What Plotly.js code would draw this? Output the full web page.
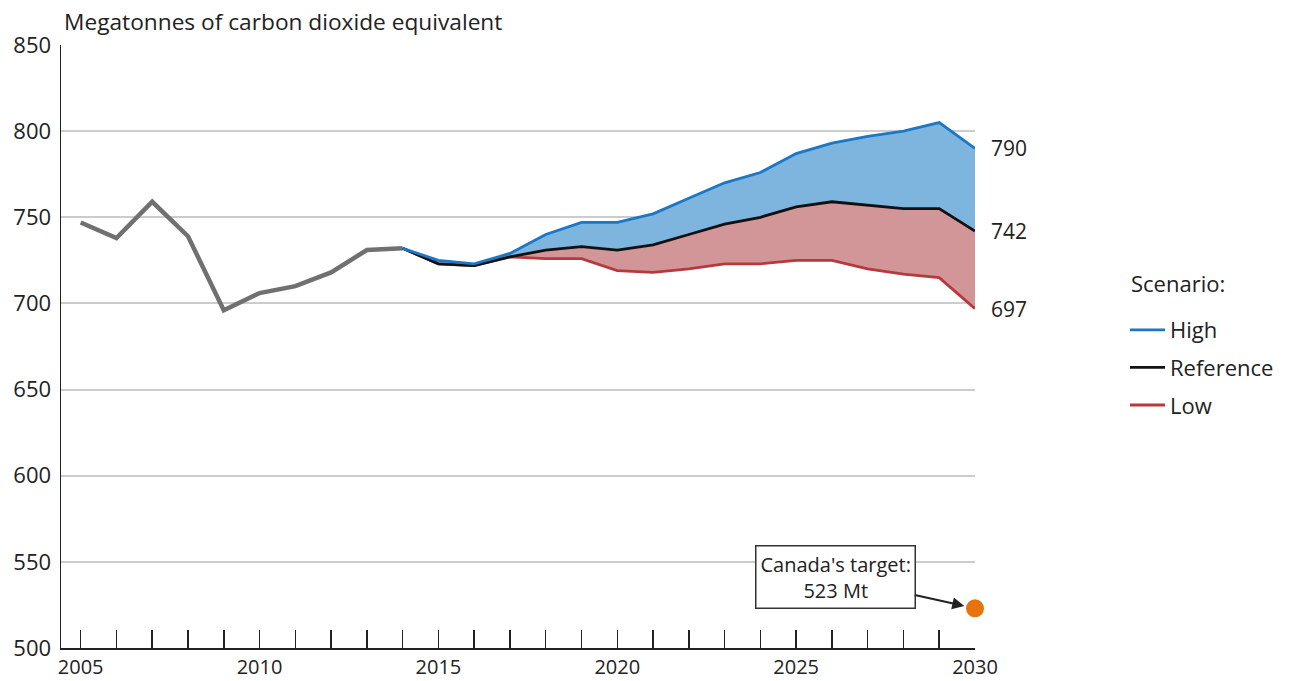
<!DOCTYPE html>
<html><head><meta charset="utf-8">
<script src="https://cdn.plot.ly/plotly-3.0.1.min.js"></script>
<style>html,body{margin:0;padding:0;background:#fff}#chart{width:1292px;height:681px}</style>
</head><body><div id="chart"></div>
<script>
const histYears = [2005,2006,2007,2008,2009,2010,2011,2012,2013,2014];
const histValues = [747,738,759,739,696,706,710,718,731,732];
const projYears = [2014,2015,2016,2017,2018,2019,2020,2021,2022,2023,2024,2025,2026,2027,2028,2029,2030];
const highValues = [732,725,723,729,740,747,747,752,761,770,776,787,793,797,800,805,790];
const refValues  = [732,723,722,727,731,733,731,734,740,746,750,756,759,757,755,755,742];
const lowValues  = [732,723,722,727,726,726,719,718,720,723,723,725,725,720,717,715,697];
const targetYear = 2030, targetValue = 523;
const targetText = "Canada's target:<br>523 Mt";
const legendTitle = 'Scenario:';
const yTicks = [500,550,600,650,700,750,800,850];
const xTickVals = [2005,2006,2007,2008,2009,2010,2011,2012,2013,2014,2015,2016,2017,2018,2019,2020,2021,2022,2023,2024,2025,2026,2027,2028,2029,2030];
const xTickText = xTickVals.map(v => v % 5 === 0 ? String(v) : '');

const FONT = 'Open Sans, sans-serif';
const C_HIGH = '#1a78c6', C_REF = '#111111', C_LOW = '#b8393d';
const F_HIGH = 'rgba(126,181,223,1)', F_LOW = 'rgba(210,150,152,1)';

const traces = [
  {x: projYears, y: lowValues, mode:'lines', line:{width:0, color:C_LOW}, showlegend:false, hoverinfo:'skip'},
  {x: projYears, y: refValues, mode:'lines', line:{width:0, color:C_REF}, fill:'tonexty', fillcolor:F_LOW, showlegend:false, hoverinfo:'skip'},
  {x: projYears, y: highValues, mode:'lines', line:{width:0, color:C_HIGH}, fill:'tonexty', fillcolor:F_HIGH, showlegend:false, hoverinfo:'skip'},
  {x: histYears, y: histValues, mode:'lines', line:{width:4.5, color:'#707070'}, showlegend:false},
  {x: projYears, y: lowValues, mode:'lines', name:'Low', legendgroup:'c', line:{width:2.8, color:C_LOW}, legendrank:3},
  {x: projYears, y: refValues, mode:'lines', name:'Reference', legendgroup:'b', line:{width:2.8, color:C_REF}, legendrank:2},
  {x: projYears, y: highValues, mode:'lines', name:'High', legendgroup:'a', line:{width:2.8, color:C_HIGH}, legendrank:1},
  {x: [targetYear], y: [targetValue], mode:'markers', marker:{size:18, color:'#e8720e'}, showlegend:false, cliponaxis:false}
];

const n = projYears.length - 1;
const endLabels = [highValues[n], refValues[n], lowValues[n]].map(v => ({
  x: projYears[n], y: v, xref:'x', yref:'y', text: String(v), showarrow:false,
  xanchor:'left', yanchor:'middle', xshift:14, font:{family:FONT, size:21, color:'#222'}
}));

const layout = {
  width:1292, height:681,
  margin:{l:61, r:317, t:45, b:33},
  paper_bgcolor:'#fff', plot_bgcolor:'#fff',
  font:{family:FONT, size:20, color:'#222'},
  title:{text:'Megatonnes of carbon dioxide equivalent', x:64/1292, xanchor:'left', xref:'container', y:1-22/681, yanchor:'middle', font:{family:FONT, size:22.7, color:'#222'}},
  xaxis:{range:[2004.45, 2030], tickvals:xTickVals, ticktext:xTickText, ticks:'inside', ticklen:18, tickwidth:1.5, tickcolor:'#222',
         showline:true, linecolor:'#222', linewidth:2, showgrid:false, zeroline:false, fixedrange:true, tickfont:{size:20}},
  yaxis:{range:[500,850], tickvals:yTicks, showgrid:true, gridcolor:'#cccccc', gridwidth:2, showline:true, linecolor:'#222', linewidth:1.5,
         ticks:'', zeroline:false, tickfont:{size:22}, ticklabelstandoff:4},
  showlegend:true,
  legend:{x:(1125-61)/914, xanchor:'left', y:1-(309-45)/603, yanchor:'top', font:{family:FONT, size:22, color:'#222'},
          traceorder:'grouped', tracegroupgap:6, itemwidth:35, bgcolor:'rgba(0,0,0,0)'},
  annotations: endLabels.concat([
    {x:(1129-61)/914, y:1-(283-45)/603, xref:'paper', yref:'paper', text:legendTitle, showarrow:false, xanchor:'left', yanchor:'middle',
     font:{family:FONT, size:22, color:'#222'}},
    {x: targetYear, y: targetValue, xref:'x', yref:'y', text: targetText, showarrow:true,
    ax:-140, ay:-31, arrowhead:2, arrowsize:1.2, arrowwidth:2, arrowcolor:'#222', standoff:11,
    bgcolor:'#fff', bordercolor:'#333', borderwidth:1.5, borderpad:4, font:{family:FONT, size:20, color:'#222'}, align:'center'
  }])
};
Plotly.newPlot('chart', traces, layout, {staticPlot:true});
</script></body></html>
